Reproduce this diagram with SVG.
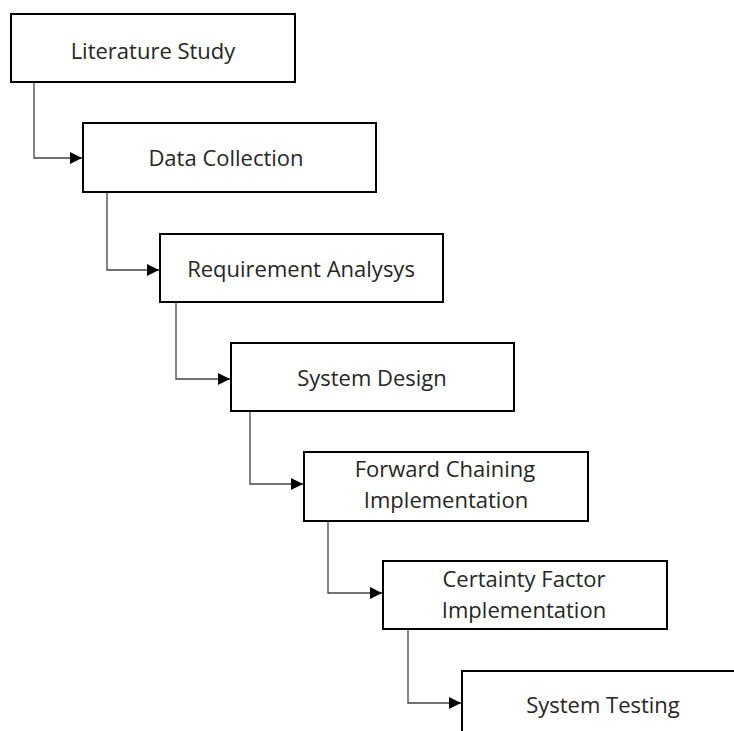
<svg xmlns="http://www.w3.org/2000/svg" width="734" height="731" viewBox="0 0 734 731">
<style>
.box{fill:#fff;stroke:#000;stroke-width:2}
.lbl{font-family:"Open Sans","Liberation Sans",sans-serif;font-size:22px;fill:#262626;text-anchor:middle}
.conn{fill:none;stroke:#444;stroke-width:1.3}
</style>
<defs>
<marker id="arr" markerUnits="userSpaceOnUse" markerWidth="13" markerHeight="13" refX="12" refY="6.5" orient="auto">
<path d="M0,0.5 L12,6.5 L0,12.5 Z" fill="#000"/>
</marker>
</defs>
<rect width="734" height="731" fill="#fff"/>
<g id="connectors">
<path class="conn" d="M34,82 V158 H82" marker-end="url(#arr)"/>
<path class="conn" d="M107,192 V270 H159" marker-end="url(#arr)"/>
<path class="conn" d="M176,302 V379 H230" marker-end="url(#arr)"/>
<path class="conn" d="M250,411 V484 H303" marker-end="url(#arr)"/>
<path class="conn" d="M328,521 V593 H382" marker-end="url(#arr)"/>
<path class="conn" d="M408,629 V703 H461" marker-end="url(#arr)"/>
</g>
<g id="n1"><rect class="box" x="11" y="14" width="284" height="68"/><text class="lbl" x="153" y="59">Literature Study</text></g>
<g id="n2"><rect class="box" x="83" y="123" width="293" height="69"/><text class="lbl" x="226" y="166">Data Collection</text></g>
<g id="n3"><rect class="box" x="160" y="234" width="283" height="68"/><text class="lbl" x="301" y="277">Requirement Analysys</text></g>
<g id="n4"><rect class="box" x="231" y="343" width="283" height="68"/><text class="lbl" x="372" y="386">System Design</text></g>
<g id="n5"><rect class="box" x="304" y="452" width="284" height="69"/><text class="lbl" x="445" y="477">Forward Chaining</text><text class="lbl" x="446" y="508">Implementation</text></g>
<g id="n6"><rect class="box" x="383" y="561" width="284" height="68"/><text class="lbl" x="524" y="587">Certainty Factor</text><text class="lbl" x="524" y="618">Implementation</text></g>
<g id="n7"><rect class="box" x="462" y="671" width="290" height="80"/><text class="lbl" x="603" y="713">System Testing</text></g>
</svg>
